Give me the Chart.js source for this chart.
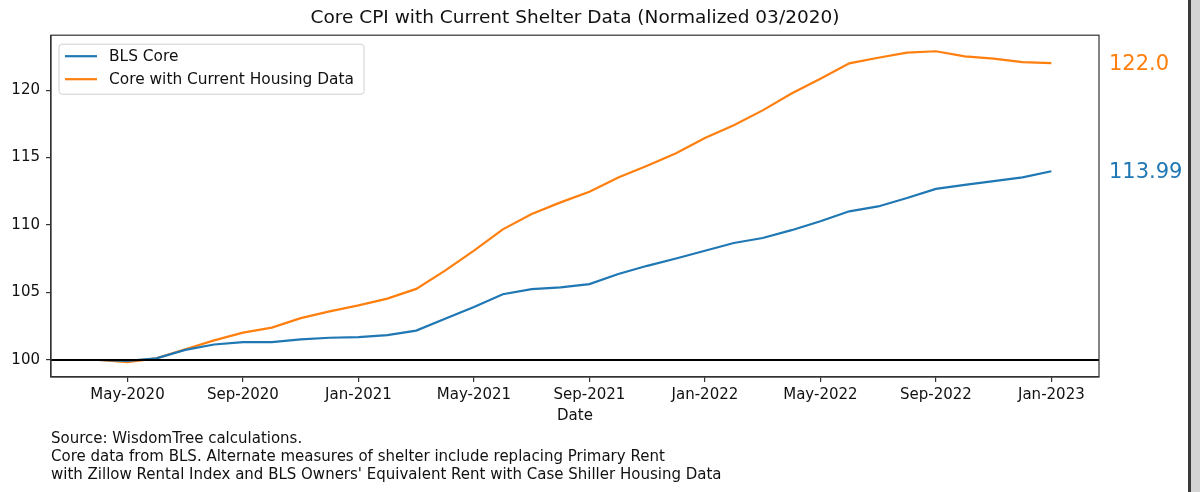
<!DOCTYPE html>
<html>
<head>
<meta charset="utf-8">
<title>Core CPI with Current Shelter Data</title>
<script src="https://cdn.jsdelivr.net/npm/chart.js@4.4.1/dist/chart.umd.min.js"></script>
<style>
  html, body { margin: 0; padding: 0; background: #fff; }
  #wrap { position: relative; width: 1200px; height: 492px; overflow: hidden; }
  #edge { position: absolute; left: 1188px; top: 0; width: 12px; height: 492px;
          background: #d4d4d4; border-left: 3px solid #3a3a3a; box-sizing: border-box; }
</style>
</head>
<body>
<div id="wrap">
  <canvas id="cpiChart" width="1200" height="492"></canvas>
  <div id="edge"></div>
</div>
<script>
// month-end observations, 03/2020 .. 12/2022 (index 0 = normalisation month)
const months = [
  '2020-03', '2020-04', '2020-05', '2020-06', '2020-07', '2020-08', '2020-09', '2020-10', '2020-11', '2020-12',
  '2021-01', '2021-02', '2021-03', '2021-04', '2021-05', '2021-06', '2021-07', '2021-08', '2021-09', '2021-10', '2021-11', '2021-12',
  '2022-01', '2022-02', '2022-03', '2022-04', '2022-05', '2022-06', '2022-07', '2022-08', '2022-09', '2022-10', '2022-11', '2022-12'
];

const blsCore = [
  100.0, 99.93, 100.12, 100.75, 101.15, 101.33, 101.33, 101.53, 101.65, 101.7,
  101.85, 102.18, 103.05, 103.92, 104.87, 105.25, 105.38, 105.62, 106.37, 106.98, 107.52, 108.1,
  108.67, 109.04, 109.62, 110.28, 111.02, 111.38, 112.0, 112.68, 112.98, 113.25, 113.54, 113.99
];

const coreHousing = [
  100.0, 99.85, 100.12, 100.8, 101.45, 102.03, 102.4, 103.1, 103.6, 104.05,
  104.55, 105.27, 106.62, 108.1, 109.68, 110.82, 111.68, 112.47, 113.53, 114.4, 115.32, 116.45,
  117.4, 118.5, 119.75, 120.85, 121.98, 122.4, 122.78, 122.88, 122.5, 122.33, 122.08, 122.0
];

const tickMonths = [1, 5, 9, 13, 17, 21, 25, 29, 33];
const tickLabels = ['May-2020', 'Sep-2020', 'Jan-2021', 'May-2021', 'Sep-2021', 'Jan-2022', 'May-2022', 'Sep-2022', 'Jan-2023'];
const yTicks = [100, 105, 110, 115, 120];
const baseline = 100;
const endLabels = ['113.99', '122.0'];

const footnote = [
  'Source: WisdomTree calculations.',
  'Core data from BLS. Alternate measures of shelter include replacing Primary Rent',
  "with Zillow Rental Index and BLS Owners' Equivalent Rent with Case Shiller Housing Data"
];

const FONT = 'DejaVu Sans';
const INK = '#111';

// box around the axes, the 100 line, the legend and the end values
const extras = {
  id: 'extras',
  afterDatasetsDraw(chart) {
    const { ctx, chartArea: a, scales } = chart;
    ctx.save();

    // horizontal line at 100
    const yb = scales.y.getPixelForValue(baseline);
    ctx.strokeStyle = '#000';
    ctx.lineWidth = 2;
    ctx.beginPath();
    ctx.moveTo(a.left, yb);
    ctx.lineTo(a.right, yb);
    ctx.stroke();

    // frame
    ctx.strokeStyle = '#333';
    ctx.lineWidth = 1.2;
    ctx.strokeRect(a.left, a.top, a.right - a.left, a.bottom - a.top);

    // legend
    const lx = a.left + 8, ly = a.top + 9, lw = 305, lh = 50, r = 3;
    ctx.beginPath();
    ctx.moveTo(lx + r, ly);
    ctx.arcTo(lx + lw, ly, lx + lw, ly + lh, r);
    ctx.arcTo(lx + lw, ly + lh, lx, ly + lh, r);
    ctx.arcTo(lx, ly + lh, lx, ly, r);
    ctx.arcTo(lx, ly, lx + lw, ly, r);
    ctx.closePath();
    ctx.fillStyle = 'rgba(255,255,255,0.85)';
    ctx.fill();
    ctx.strokeStyle = '#d0d0d0';
    ctx.lineWidth = 1;
    ctx.stroke();

    ctx.font = '15.4px "' + FONT + '"';
    ctx.textBaseline = 'middle';
    ctx.textAlign = 'left';
    chart.data.datasets.forEach((ds, i) => {
      const yy = ly + 12 + i * 23;
      ctx.strokeStyle = ds.borderColor;
      ctx.lineWidth = 2.2;
      ctx.beginPath();
      ctx.moveTo(lx + 6, yy);
      ctx.lineTo(lx + 38, yy);
      ctx.stroke();
      ctx.fillStyle = INK;
      ctx.fillText(ds.label, lx + 50, yy + 1);
    });

    // last values at the right
    ctx.font = '21px "' + FONT + '"';
    chart.data.datasets.forEach((ds, i) => {
      const last = ds.data[ds.data.length - 1];
      ctx.fillStyle = ds.borderColor;
      ctx.fillText(endLabels[i], a.right + 10, scales.y.getPixelForValue(last.y) + 1);
    });

    ctx.restore();
  }
};

const tickFont = { family: FONT, size: 15 };

new Chart(document.getElementById('cpiChart'), {
  type: 'line',
  data: {
    datasets: [
      {
        label: 'BLS Core',
        data: blsCore.map((v, i) => ({ x: i, y: v })),
        borderColor: '#1f77b4',
        borderWidth: 2.2,
        pointRadius: 0,
        fill: false,
        tension: 0
      },
      {
        label: 'Core with Current Housing Data',
        data: coreHousing.map((v, i) => ({ x: i, y: v })),
        borderColor: '#ff7f0e',
        borderWidth: 2.2,
        pointRadius: 0,
        fill: false,
        tension: 0
      }
    ]
  },
  options: {
    responsive: false,
    animation: false,
    devicePixelRatio: 1,
    layout: { padding: { left: 0, right: 101, top: 0, bottom: 0 } },
    plugins: {
      legend: { display: false },
      tooltip: { enabled: false },
      title: {
        display: true,
        text: 'Core CPI with Current Shelter Data (Normalized 03/2020)',
        fullSize: false,
        color: INK,
        font: { family: FONT, size: 18.5, weight: 'normal' },
        padding: { top: 7, bottom: 6 }
      },
      subtitle: {
        display: true,
        text: footnote,
        position: 'bottom',
        align: 'start',
        fullSize: false,
        color: INK,
        font: { family: FONT, size: 15, weight: 'normal', lineHeight: 1.2 },
        padding: { top: 3, bottom: 8 }
      }
    },
    scales: {
      x: {
        type: 'linear',
        min: -1.65,
        max: 34.65,
        afterBuildTicks: s => { s.ticks = tickMonths.map(v => ({ value: v })); },
        afterFit: s => { s.height = 50; },
        ticks: {
          callback: (v, i) => tickLabels[i],
          color: INK,
          font: tickFont,
          padding: 4,
          maxRotation: 0,
          autoSkip: false
        },
        grid: { drawOnChartArea: false, drawTicks: true, tickLength: 5, color: '#333', lineWidth: 1.2 },
        border: { display: true, color: '#333', width: 1.2 },
        title: {
          display: true,
          text: 'Date',
          color: INK,
          font: tickFont,
          padding: { top: 0, bottom: 2 }
        }
      },
      y: {
        min: 98.74,
        max: 124.07,
        afterBuildTicks: s => { s.ticks = yTicks.map(v => ({ value: v })); },
        afterFit: s => { s.width = 51; },
        ticks: {
          callback: v => String(v),
          color: INK,
          font: tickFont,
          padding: 6
        },
        grid: { drawOnChartArea: false, drawTicks: true, tickLength: 5, color: '#333', lineWidth: 1.2 },
        border: { display: true, color: '#333', width: 1.2 }
      }
    }
  },
  plugins: [extras]
});
</script>
</body>
</html>
